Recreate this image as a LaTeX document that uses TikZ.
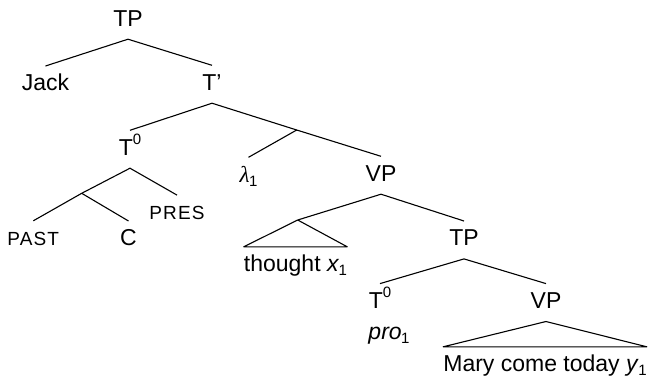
\documentclass[tikz,border=0pt]{standalone}
\usepackage{fontspec}
\setmainfont{Liberation Sans}
\newfontfamily\lamfont{Liberation Serif}
\newfontfamily\capfont[LetterSpace=6]{Liberation Sans}
\newcommand\lsub[1]{\kern-0.5pt\raisebox{-0.18em}{\fontsize{15}{15}\selectfont #1}}
\newcommand\lsup[1]{\raisebox{0.45em}{\fontsize{15}{15}\selectfont #1}}
\begin{document}
\begin{tikzpicture}[x=1pt,y=-1pt,
  lab/.style={anchor=base,inner sep=0pt,text height=24.5pt,text depth=13pt,font=\fontsize{23}{23}\selectfont},
  feat/.style={anchor=base,inner sep=0pt,text height=24pt,text depth=4pt,font=\fontsize{19}{19}\selectfont\capfont},
  leaf/.style={anchor=base,inner sep=0pt,text height=24.5pt,text depth=2pt,font=\fontsize{23}{23}\selectfont},
  edge/.style={line width=1.1pt,line join=round}]
\useasboundingbox (0,0) rectangle (653,378);
% nodes
\node[lab] (tp) at (128,26) {TP};
\node[lab] (jack) at (45.5,90.7) {Jack};
\node[lab] (tbar) at (212,90) {T’};
\node[lab] (t0a) at (130,155) {T\lsup{0}};
\node[lab] (lam) at (248.5,182) {{\lamfont\itshape λ}\lsub{1}};
\node[lab] (vp1) at (381,181) {VP};
\node[feat] (past) at (33.3,245) {PAST};
\node[lab] (c) at (128.5,245.7) {C};
\node[feat] (pres) at (177,219.3) {PRES};
\node[leaf] (thought) at (295.5,271.5) {thought \textit{x}\lsub{1}};
\node[lab] (tp2) at (464,245.7) {TP};
\node[lab] (t0b) at (380,308.3) {T\lsup{0}};
\node[leaf] (pro) at (389,339) {\textit{pro}\lsub{1}};
\node[lab] (vp2) at (546,308.3) {VP};
\node[leaf] (mary) at (545,371.5) {Mary come today \textit{y}\lsub{1}};
% branch points
\coordinate (b1) at (296.7,130);
\coordinate (b2) at (81.7,193.3);
\coordinate (tri1) at (297.7,220);
% edges
\draw[edge] (jack.north) -- (tp.south) -- (tbar.north);
\draw[edge] (t0a.north) -- (tbar.south) -- (b1) -- (vp1.north);
\draw[edge] (b1) -- (lam.north);
\draw[edge] (past.north) -- (b2) -- (t0a.south) -- (pres.north);
\draw[edge] (b2) -- (c.north);
\draw[edge] (tri1) -- (vp1.south) -- (tp2.north);
\draw[edge] (thought.north west) -- (tri1) -- (thought.north east) -- cycle;
\draw[edge] (t0b.north) -- (tp2.south) -- (vp2.north);
\draw[edge] (mary.north west) -- (vp2.south) -- (mary.north east) -- cycle;
\end{tikzpicture}
\end{document}
